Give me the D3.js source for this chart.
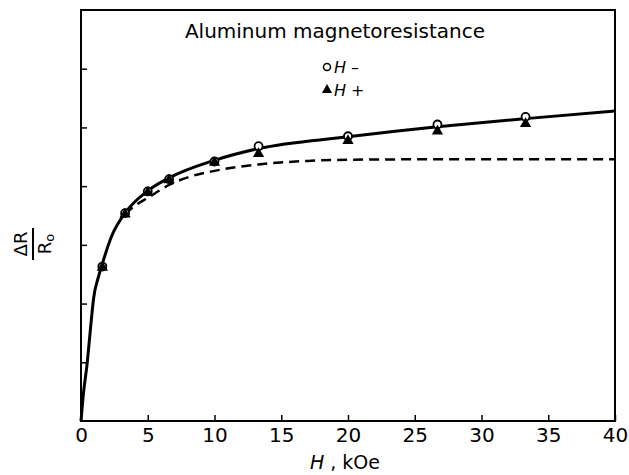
<!DOCTYPE html>
<html>
<head>
<meta charset="utf-8">
<script src="https://cdn.jsdelivr.net/npm/d3@7"></script>
<style>
  body { margin: 0; background: #fff; }
  text { font-family: "DejaVu Sans", sans-serif; fill: #000; }
</style>
</head>
<body>
<svg id="chart" width="629" height="475"></svg>
<script>
// axis ticks
const xTicks = [0, 5, 10, 15, 20, 25, 30, 35, 40];
const yTicks = [0, 1, 2, 3, 4, 5, 6, 7];

// measured points (field in kOe)
const fieldPts = [1.6, 3.3, 5, 6.6, 10, 13.3, 20, 26.7, 33.3];
const hMinus = [2.63, 3.54, 3.91, 4.12, 4.42, 4.68, 4.85, 5.05, 5.18];
const hPlus = [2.63, 3.54, 3.91, 4.12, 4.42, 4.57, 4.79, 4.95, 5.08];

// solid curve
const solidH = [0, 0.15, 0.47, 0.7, 0.95, 1.3, 1.6, 2.3, 3.3, 5, 6.6, 10, 13.3, 20, 26.7, 33.3, 40];
const solidR = [0, 0.4, 1.0, 1.55, 2.1, 2.45, 2.68, 3.15, 3.54, 3.92, 4.14, 4.44, 4.64, 4.84, 5.01, 5.15, 5.28];

// dashed curve
const dashH = [3.3, 4, 5, 6.6, 8, 10, 13.3, 17, 20, 30, 40];
const dashR = [3.52, 3.66, 3.8, 4.02, 4.15, 4.26, 4.37, 4.43, 4.45, 4.46, 4.46];

const svg = d3.select("#chart");

const x = d3.scaleLinear().domain([0, 40]).range([81, 615]);
const y = d3.scaleLinear().domain([0, 7]).range([421, 10]);

// frame
svg.append("rect")
  .attr("x", x(0)).attr("y", y(7))
  .attr("width", x(40) - x(0)).attr("height", y(0) - y(7))
  .attr("fill", "none").attr("stroke", "#000").attr("stroke-width", 2);

// bottom axis, ticks pointing inward
const xAxis = svg.append("g")
  .attr("transform", `translate(0,${y(0)})`)
  .call(d3.axisBottom(x).tickValues(xTicks).tickSizeInner(-6).tickSizeOuter(0).tickPadding(7));
xAxis.select(".domain").remove();
xAxis.selectAll("line").attr("stroke-width", 1.5);
xAxis.selectAll("text")
  .style("font-family", "DejaVu Sans, sans-serif")
  .style("font-size", "20px");

// left axis, unlabeled inward ticks
const yAxis = svg.append("g")
  .attr("transform", `translate(${x(0)},0)`)
  .call(d3.axisLeft(y).tickValues(yTicks.slice(1, -1)).tickSizeInner(-6).tickSizeOuter(0).tickFormat(""));
yAxis.select(".domain").remove();
yAxis.selectAll("line").attr("stroke-width", 1.5);

// curves
const line = d3.line().x(d => x(d[0])).y(d => y(d[1])).curve(d3.curveMonotoneX);

svg.append("path")
  .datum(dashH.map((h, i) => [h, dashR[i]]))
  .attr("d", line)
  .attr("fill", "none").attr("stroke", "#000")
  .attr("stroke-width", 2.5).attr("stroke-dasharray", "10,6");

svg.append("path")
  .datum(solidH.map((h, i) => [h, solidR[i]]))
  .attr("d", line)
  .attr("fill", "none").attr("stroke", "#000").attr("stroke-width", 3);

// markers
svg.selectAll(".hminus")
  .data(fieldPts.map((h, i) => [h, hMinus[i]]))
  .join("circle")
  .attr("class", "hminus")
  .attr("cx", d => x(d[0])).attr("cy", d => y(d[1]))
  .attr("r", 4).attr("fill", "#fff").attr("stroke", "#000").attr("stroke-width", 1.8);

const tri = d3.symbol().type(d3.symbolTriangle).size(55);
svg.selectAll(".hplus")
  .data(fieldPts.map((h, i) => [h, hPlus[i]]))
  .join("path")
  .attr("class", "hplus")
  .attr("d", tri)
  .attr("transform", d => `translate(${x(d[0])},${y(d[1]) + 1})`)
  .attr("fill", "#000");

// title and legend
svg.append("text")
  .attr("x", 335).attr("y", 38)
  .attr("text-anchor", "middle")
  .style("font-size", "20px")
  .text("Aluminum magnetoresistance");

const legend = svg.append("g").attr("transform", "translate(327,0)");
legend.append("circle")
  .attr("cx", 0).attr("cy", 67).attr("r", 3.5)
  .attr("fill", "#fff").attr("stroke", "#000").attr("stroke-width", 1.5);
legend.append("text").attr("x", 7).attr("y", 73).style("font-size", "16px")
  .html('<tspan font-style="italic">H</tspan> \u2013');
legend.append("path")
  .attr("d", d3.symbol().type(d3.symbolTriangle).size(45))
  .attr("transform", "translate(0,90)")
  .attr("fill", "#000");
legend.append("text").attr("x", 7).attr("y", 96).style("font-size", "16px")
  .html('<tspan font-style="italic">H</tspan> +');

// axis title
svg.append("text")
  .attr("x", 345).attr("y", 469)
  .attr("text-anchor", "middle")
  .style("font-size", "19px")
  .html('<tspan font-style="italic">H</tspan> , kOe');

// y label as a rotated fraction
const yl = svg.append("g").attr("transform", "translate(33,244) rotate(-90)");
yl.append("text").attr("x", 0).attr("y", -6).attr("text-anchor", "middle")
  .style("font-size", "18px").text("\u0394R");
yl.append("line").attr("x1", -16).attr("x2", 16).attr("y1", 0).attr("y2", 0)
  .attr("stroke", "#000").attr("stroke-width", 2);
yl.append("text").attr("x", 0).attr("y", 18).attr("text-anchor", "middle")
  .style("font-size", "18px")
  .html('R<tspan font-size="13px" dy="3">o</tspan>');
</script>
</body>
</html>
